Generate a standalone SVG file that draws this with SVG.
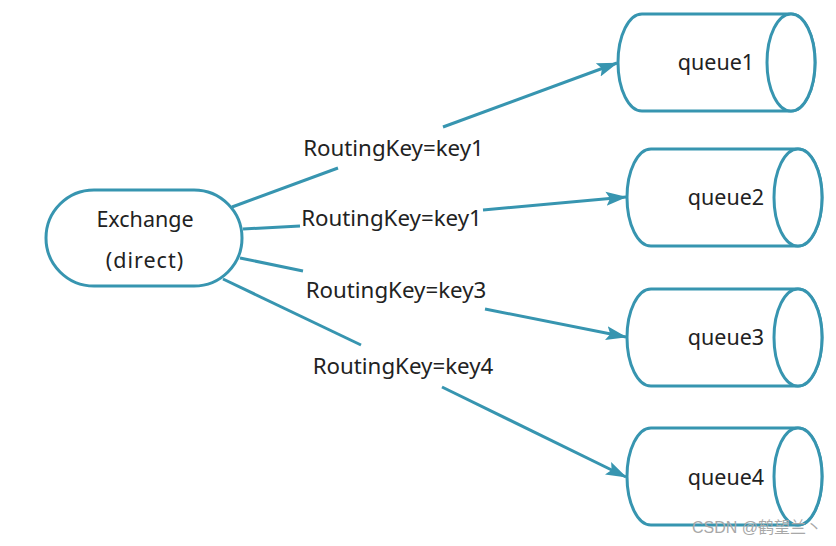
<svg xmlns="http://www.w3.org/2000/svg" width="836" height="546" viewBox="0 0 836 546">
<style>
.shape{fill:#fff;stroke:#3795b0;stroke-width:3}
.edge{fill:none;stroke:#3795b0;stroke-width:3;stroke-linecap:butt}
.t{font-family:"Noto Sans","Open Sans","DejaVu Sans",sans-serif;font-size:21.5px;fill:#222}
.lb{font-size:22.3px}
.wm{font-family:"Liberation Sans","Noto Sans CJK SC",sans-serif;font-size:16px;fill:#a8a8a8}
</style>
<defs>
<marker id="arr" markerUnits="userSpaceOnUse" markerWidth="22" markerHeight="16" viewBox="0 0 22 16" refX="20" refY="8" orient="auto">
<path d="M0,1 L21,8 L0,15 L4,8 Z" fill="#3795b0"/>
</marker>
</defs>
<rect width="836" height="546" fill="#fff"/>
<g id="connectors">
<line class="edge" x1="232" y1="207" x2="338" y2="168"/>
<line class="edge" x1="443" y1="127" x2="617" y2="63" marker-end="url(#arr)"/>
<line class="edge" x1="243" y1="229" x2="300" y2="226"/>
<line class="edge" x1="483" y1="210" x2="626" y2="197" marker-end="url(#arr)"/>
<line class="edge" x1="240" y1="258" x2="303" y2="271"/>
<line class="edge" x1="485" y1="309" x2="626" y2="337" marker-end="url(#arr)"/>
<line class="edge" x1="223" y1="279" x2="361" y2="345"/>
<line class="edge" x1="442" y1="387" x2="626" y2="477" marker-end="url(#arr)"/>
</g>
<g id="labels">
<text class="t lb" x="393.5" y="156" text-anchor="middle">RoutingKey=key1</text>
<text class="t lb" x="391.5" y="226" text-anchor="middle">RoutingKey=key1</text>
<text class="t lb" x="396" y="298" text-anchor="middle">RoutingKey=key3</text>
<text class="t lb" x="403" y="374" text-anchor="middle">RoutingKey=key4</text>
</g>
<g id="exchange">
<rect class="shape" x="46" y="190" width="196" height="96" rx="48" ry="48"/>
<text class="t" x="145" y="227" text-anchor="middle">Exchange</text>
<text class="t" x="145" y="268" text-anchor="middle" letter-spacing="1">(direct)</text>
</g>
<g id="queue1">
<path class="shape" d="M642,14 L791,14 A24,48.5 0 0 1 791,111 L642,111 A24,48.5 0 0 1 642,14 Z"/>
<ellipse class="shape" cx="791" cy="62.5" rx="24" ry="48.5"/>
<text class="t" x="716" y="70" text-anchor="middle">queue1</text>
</g>
<g id="queue2">
<path class="shape" d="M651,149 L798,149 A24,48.5 0 0 1 798,246 L651,246 A24,48.5 0 0 1 651,149 Z"/>
<ellipse class="shape" cx="798" cy="197.5" rx="24" ry="48.5"/>
<text class="t" x="726" y="205" text-anchor="middle">queue2</text>
</g>
<g id="queue3">
<path class="shape" d="M651,289 L798,289 A24,48.5 0 0 1 798,386 L651,386 A24,48.5 0 0 1 651,289 Z"/>
<ellipse class="shape" cx="798" cy="337.5" rx="24" ry="48.5"/>
<text class="t" x="726" y="345" text-anchor="middle">queue3</text>
</g>
<g id="queue4">
<path class="shape" d="M651,428 L798,428 A24,48.5 0 0 1 798,525 L651,525 A24,48.5 0 0 1 651,428 Z"/>
<ellipse class="shape" cx="798" cy="476.5" rx="24" ry="48.5"/>
<text class="t" x="726" y="485" text-anchor="middle">queue4</text>
</g>
<text class="wm" x="822" y="533" text-anchor="end">CSDN @鹤望兰丶</text>
</svg>
